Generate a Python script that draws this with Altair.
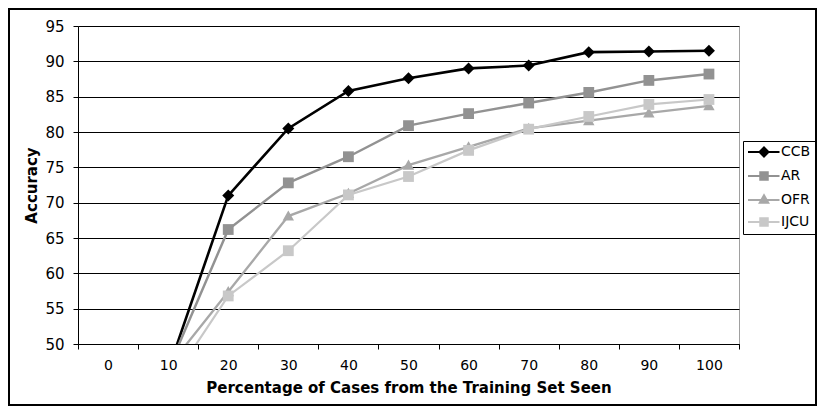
import altair as alt
import pandas as pd

x_cats = ["0", "10", "20", "30", "40", "50", "60", "70", "80", "90", "100"]
series = ["CCB", "AR", "OFR", "IJCU"]
ccb = [None, 46.3, 71.0, 80.5, 85.8, 87.6, 89.0, 89.4, 91.3, 91.4, 91.5]
ar = [None, 46.4, 66.2, 72.8, 76.5, 80.9, 82.6, 84.1, 85.6, 87.3, 88.2]
ofr = [None, 46.7, 57.4, 68.1, 71.3, 75.3, 77.9, 80.5, 81.6, 82.7, 83.7]
ijcu = [None, 44.0, 56.8, 63.2, 71.1, 73.7, 77.4, 80.4, 82.2, 83.9, 84.6]
colors = ["#000000", "#929292", "#a8a8a8", "#c8c8c8"]
y_ticks = [50, 55, 60, 65, 70, 75, 80, 85, 90, 95]

rows = []
for name, vals in zip(series, [ccb, ar, ofr, ijcu]):
    for i, (c, v) in enumerate(zip(x_cats, vals)):
        if v is not None:
            rows.append({"x": c, "acc": v, "series": name, "order": i})
df = pd.DataFrame(rows)

FONT = "DejaVu Sans"
W, H = 661, 318

# marker shapes (custom paths)
chart_shapes = [
    "M-1,0L0,-1L1,0L0,1Z",
    "M-0.9,-0.9L0.9,-0.9L0.9,0.9L-0.9,0.9Z",
    "M0,-0.95L0.95,0.75L-0.95,0.75Z",
    "M-0.9,-0.9L0.9,-0.9L0.9,0.9L-0.9,0.9Z",
]


def f(v):
    return f"{v:.3f}"


def poly(pts):
    return "M" + "L".join(f"{f(a)},{f(b)}" for a, b in pts) + "Z"


def legend_symbol(kind, cx=2.0):
    parts = ["M-1.2,0L5.1,0"]
    if kind == "diamond":
        for r in [0.9, 0.6, 0.3, 0.05]:
            parts.append(poly([(cx - r, 0), (cx, -r), (cx + r, 0), (cx, r)]))
    elif kind == "square":
        for r in [0.75, 0.5, 0.25, 0.05]:
            parts.append(poly([(cx - r, -r), (cx + r, -r), (cx + r, r), (cx - r, r)]))
    else:
        base_pts = [(0, -0.95), (0.85, 0.55), (-0.85, 0.55)]
        cy = sum(p[1] for p in base_pts) / 3
        for s in [1.0, 0.65, 0.35, 0.08]:
            parts.append(poly([(cx + px * s, cy + (py - cy) * s) for px, py in base_pts]))
    return "".join(parts)


legend_shapes = [
    legend_symbol("diamond"),
    legend_symbol("square"),
    legend_symbol("triangle"),
    legend_symbol("square"),
]

xscale = alt.Scale(type="band", domain=x_cats, paddingInner=0, paddingOuter=0)
yscale = alt.Scale(domain=[50, 95], nice=False, zero=False)

xaxis = alt.Axis(
    title="Percentage of Cases from the Training Set Seen",
    labelAngle=0,
    tickBand="extent",
    labelFont=FONT,
    labelFontSize=14,
    labelColor="#000",
    labelPadding=9,
    titleFont=FONT,
    titleFontSize=15,
    titleFontWeight="bold",
    titleColor="#000",
    titlePadding=8,
    domainColor="#000",
    tickColor="#000",
    tickSize=5,
    grid=False,
)
yaxis = alt.Axis(
    title="Accuracy",
    values=y_ticks,
    tickCount=10,
    labelFont=FONT,
    labelFontSize=15,
    labelColor="#000",
    labelPadding=9,
    labelOverlap=False,
    titleFont=FONT,
    titleFontSize=15,
    titleFontWeight="bold",
    titleColor="#000",
    titlePadding=5,
    domainColor="#000",
    tickColor="#000",
    tickSize=5,
    grid=True,
    gridColor="#000",
    gridWidth=1,
    gridOpacity=1,
)


def xenc():
    return alt.X("x:O", sort=x_cats, scale=xscale, axis=xaxis)


def yenc():
    return alt.Y("acc:Q", scale=yscale, axis=yaxis)


base = alt.Chart(df)

frame = alt.Chart(pd.DataFrame({"k": [0]})).mark_rect(
    filled=False, stroke="#000", strokeWidth=2, clip=False
).encode(
    x=alt.value(-69), x2=alt.value(W + 77), y=alt.value(-17), y2=alt.value(H + 61)
)

lines = base.mark_line(clip=True).encode(
    x=xenc(),
    y=yenc(),
    color=alt.Color("series:N", scale=alt.Scale(domain=series, range=colors), legend=None),
    strokeWidth=alt.StrokeWidth(
        "series:N", scale=alt.Scale(domain=series, range=[2.6, 2.2, 2.2, 2.2]), legend=None
    ),
    order="order:Q",
    detail="series:N",
)

points = base.mark_point(filled=True, opacity=1, clip=True, size=144).encode(
    x=xenc(),
    y=yenc(),
    color=alt.Color("series:N", scale=alt.Scale(domain=series, range=colors), legend=None),
    shape=alt.Shape("series:N", scale=alt.Scale(domain=series, range=chart_shapes), legend=None),
)

legend_layer = base.transform_filter("false").mark_point(
    filled=False, opacity=1, size=100, strokeWidth=2
).encode(
    x=xenc(),
    y=yenc(),
    color=alt.Color(
        "series:N",
        scale=alt.Scale(domain=series, range=colors),
        legend=alt.Legend(title=None),
    ),
    shape=alt.Shape(
        "series:N",
        scale=alt.Scale(domain=series, range=legend_shapes),
        legend=alt.Legend(title=None),
    ),
)

chart = (
    alt.layer(frame, lines, points, legend_layer)
    .resolve_scale(shape="independent", color="independent")
    .properties(
        width=W,
        height=H,
        autosize=alt.AutoSizeParams(type="none"),
        padding={"left": 70, "top": 18, "right": 78, "bottom": 62},
    )
    .configure_view(stroke="#a0a0a0", strokeWidth=1)
    .configure_legend(
        orient="none",
        legendX=665,
        legendY=115,
        strokeColor="#000",
        strokeWidth=1,
        padding=4,
        labelFont=FONT,
        labelFontSize=14,
        labelColor="#000",
        labelOffset=20,
        symbolSize=100,
        symbolStrokeWidth=2,
        rowPadding=7,
        symbolOpacity=1,
    )
)

chart.save("out.html", embed_options={"renderer": "svg", "actions": False})
